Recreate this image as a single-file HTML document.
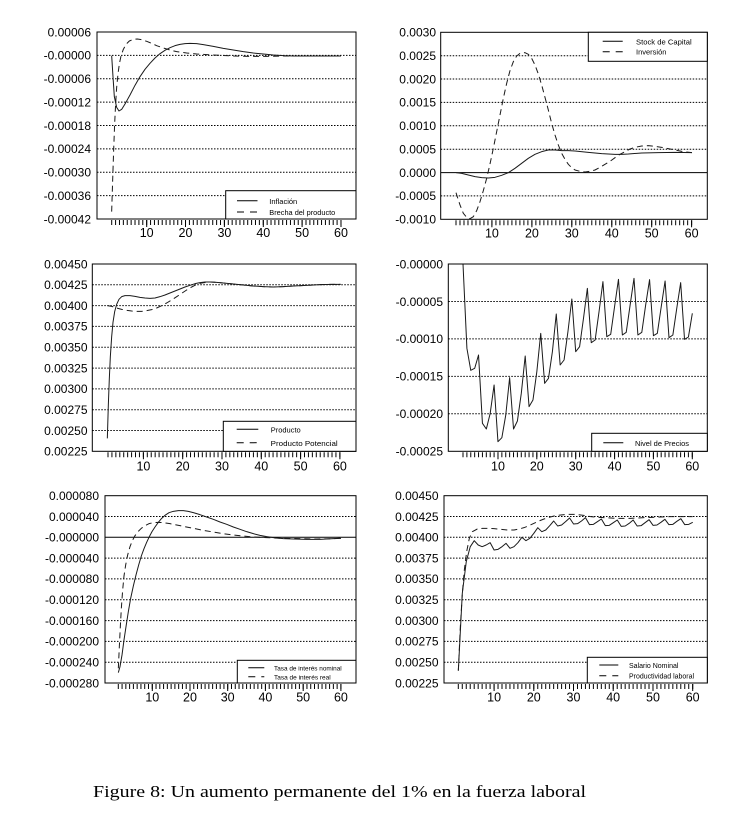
<!DOCTYPE html>
<html><head><meta charset="utf-8"><style>
html,body{margin:0;padding:0;background:#fff;}
svg{display:block;}
.yl{font-family:"Liberation Sans",sans-serif;font-size:12px;fill:#000;text-anchor:end;}
.xl{font-family:"Liberation Sans",sans-serif;font-size:12.5px;fill:#000;text-anchor:middle;}
.lg{font-family:"Liberation Sans",sans-serif;font-size:7.5px;fill:#000;}
.grid{stroke:#000;stroke-width:1;stroke-dasharray:1.5 1.5;}
.box{fill:none;stroke:#000;stroke-width:1;}
.leg{fill:#fff;stroke:#000;stroke-width:1;}
.s{fill:none;stroke:#1a1a1a;stroke-width:3;stroke-linejoin:round;}
.d{fill:none;stroke:#1a1a1a;stroke-width:3;stroke-dasharray:18 12;stroke-linejoin:round;}
.ls{stroke:#000;stroke-width:1;}
.ld{stroke:#000;stroke-width:1;stroke-dasharray:7 6;}
</style></head><body>
<svg width="755" height="826" viewBox="0 0 755 826" xmlns="http://www.w3.org/2000/svg">
<rect width="755" height="826" fill="#fff"/>

<!-- ============ PANEL 1 ============ -->
<g>
<line class="grid" x1="97" x2="356" y1="55.4" y2="55.4"/>
<line class="grid" x1="97" x2="356" y1="78.75" y2="78.75"/>
<line class="grid" x1="97" x2="356" y1="102.1" y2="102.1"/>
<line class="grid" x1="97" x2="356" y1="125.5" y2="125.5"/>
<line class="grid" x1="97" x2="356" y1="148.9" y2="148.9"/>
<line class="grid" x1="97" x2="356" y1="172.25" y2="172.25"/>
<line class="grid" x1="97" x2="356" y1="195.6" y2="195.6"/>
<g transform="translate(0,0) scale(0.33333)">
<polyline class="s" points="335,167 339,230 343,290 350,322 357,333 365,328 375,312 390,285 405,256 420,230 435,208 450,190 465,174 480,161 495,151 510,143 525,137 540,133 555,131 570,130 590,131 610,134 640,139 670,145 700,150 730,155 760,159 790,162 820,165 850,167 880,168 920,168 970,168 1023,168"/>
<polyline class="d" points="335,635 338,540 341,450 344,370 347,310 350,262 354,222 358,192 363,168 370,148 378,133 388,123 400,118 412,117 425,119 440,124 455,130 470,137 490,144 510,150 530,155 560,159 590,162 620,164 660,166 700,168 750,169 800,169 860,168 940,168 1023,168"/>
</g>
<rect class="box" x="97" y="32" width="259" height="187"/>
<rect class="leg" x="225.7" y="190.7" width="130.3" height="28.3"/>
<line class="ls" x1="237" x2="257.5" y1="200.7" y2="200.7"/>
<line class="ld" x1="237" x2="257.5" y1="212" y2="212"/>
<text class="lg" x="269.3" y="204">Inflación</text>
<text class="lg" x="269.3" y="215" textLength="66" lengthAdjust="spacingAndGlyphs">Brecha del producto</text>
<text class="yl" x="91" y="36.3">0.00006</text>
<text class="yl" x="91" y="59.7">-0.00000</text>
<text class="yl" x="91" y="83.1">-0.00006</text>
<text class="yl" x="91" y="106.4">-0.00012</text>
<text class="yl" x="91" y="129.8">-0.00018</text>
<text class="yl" x="91" y="153.2">-0.00024</text>
<text class="yl" x="91" y="176.6">-0.00030</text>
<text class="yl" x="91" y="199.9">-0.00036</text>
<text class="yl" x="91" y="223.3">-0.00042</text>
<line x1="111.2" x2="341.6" y1="222.5" y2="222.5" stroke="#000" stroke-width="5" stroke-dasharray="1 2.886"/>
<path d="M146.7 220v7M185.5 220v7M224.4 220v7M263.3 220v7M302.1 220v7M341 220v7" stroke="#000" stroke-width="1"/>
<text class="xl" x="146.7" y="237">10</text>
<text class="xl" x="185.5" y="237">20</text>
<text class="xl" x="224.4" y="237">30</text>
<text class="xl" x="263.3" y="237">40</text>
<text class="xl" x="302.1" y="237">50</text>
<text class="xl" x="341" y="237">60</text>
</g>

<!-- ============ PANEL 2 ============ -->
<g>
<line class="grid" x1="440.7" x2="707.3" y1="55.7" y2="55.7"/>
<line class="grid" x1="440.7" x2="707.3" y1="79" y2="79"/>
<line class="grid" x1="440.7" x2="707.3" y1="102.4" y2="102.4"/>
<line class="grid" x1="440.7" x2="707.3" y1="125.8" y2="125.8"/>
<line class="grid" x1="440.7" x2="707.3" y1="149.2" y2="149.2"/>
<line x1="440.7" x2="707.3" y1="172.6" y2="172.6" stroke="#000" stroke-width="1"/>
<line class="grid" x1="440.7" x2="707.3" y1="195.9" y2="195.9"/>
<g transform="translate(375,0) scale(0.33333)">
<polyline class="s" points="243,518 260,520 280,525 300,530 320,533 340,534 360,532 380,526 400,518 420,505 440,490 460,475 480,463 500,455 520,450 540,450 560,452 580,452 600,453 640,457 680,461 720,463 740,463 760,462 800,459 850,458 900,457 951,458"/>
<polyline class="d" points="243,578 255,615 265,640 275,652 285,656 295,650 305,632 315,605 325,572 335,535 345,492 355,445 365,395 375,345 385,295 395,250 405,212 415,185 425,168 435,160 450,158 460,163 470,175 480,195 490,222 500,255 510,292 520,330 530,370 540,405 550,435 560,460 570,478 580,493 590,503 600,510 615,514 630,516 645,514 660,510 675,502 690,493 705,484 720,473 735,463 750,455 765,447 780,442 800,438 820,437 840,439 860,442 880,446 900,450 925,455 951,458"/>
</g>
<rect class="box" x="440.7" y="32.3" width="266.6" height="187"/>
<rect class="leg" x="588.3" y="32.3" width="119" height="29"/>
<line class="ls" x1="602.7" x2="622.7" y1="41.3" y2="41.3"/>
<line class="ld" x1="602.7" x2="622.7" y1="51.7" y2="51.7"/>
<text class="lg" x="636" y="44.3" textLength="55.7" lengthAdjust="spacingAndGlyphs">Stock de Capital</text>
<text class="lg" x="636" y="54.7">Inversión</text>
<text class="yl" x="436" y="36.6">0.0030</text>
<text class="yl" x="436" y="60">0.0025</text>
<text class="yl" x="436" y="83.4">0.0020</text>
<text class="yl" x="436" y="106.7">0.0015</text>
<text class="yl" x="436" y="130.1">0.0010</text>
<text class="yl" x="436" y="153.5">0.0005</text>
<text class="yl" x="436" y="176.9">0.0000</text>
<text class="yl" x="436" y="200.2">-0.0005</text>
<text class="yl" x="436" y="223.6">-0.0010</text>
<line x1="455.5" x2="692.2" y1="222.8" y2="222.8" stroke="#000" stroke-width="5" stroke-dasharray="1 2.994"/>
<path d="M491.9 220.3v7M531.9 220.3v7M571.8 220.3v7M611.8 220.3v7M651.7 220.3v7M691.6 220.3v7" stroke="#000" stroke-width="1"/>
<text class="xl" x="491.9" y="237.5">10</text>
<text class="xl" x="531.9" y="237.5">20</text>
<text class="xl" x="571.8" y="237.5">30</text>
<text class="xl" x="611.8" y="237.5">40</text>
<text class="xl" x="651.7" y="237.5">50</text>
<text class="xl" x="691.6" y="237.5">60</text>
</g>

<!-- ============ PANEL 3 ============ -->
<g>
<line class="grid" x1="92.3" x2="356" y1="284.8" y2="284.8"/>
<line class="grid" x1="92.3" x2="356" y1="305.6" y2="305.6"/>
<line class="grid" x1="92.3" x2="356" y1="326.4" y2="326.4"/>
<line class="grid" x1="92.3" x2="356" y1="347.2" y2="347.2"/>
<line class="grid" x1="92.3" x2="356" y1="368.1" y2="368.1"/>
<line class="grid" x1="92.3" x2="356" y1="388.9" y2="388.9"/>
<line class="grid" x1="92.3" x2="356" y1="409.7" y2="409.7"/>
<line class="grid" x1="92.3" x2="356" y1="430.5" y2="430.5"/>
<g transform="translate(0,245) scale(0.33333)">
<polyline class="d" points="322,182 335,184 350,189 365,193 380,196 395,198 410,199 425,199 440,197 455,194 470,189 485,182 500,174 515,165 530,155 545,145 560,135 575,126 590,118 605,114 620,112 630,111 650,112 670,114 700,117 730,120 760,123 790,125 820,126 850,125 880,123 920,121 960,119 1000,118 1022,118"/>
<polyline class="s" points="322,580 325,480 328,400 331,335 335,275 339,232 344,200 350,178 357,163 365,155 375,152 390,152 405,154 420,157 435,159 450,160 465,159 480,155 495,150 510,144 525,138 540,132 555,126 570,121 585,116 600,113 615,111 630,111 650,112 670,114 700,117 730,120 760,123 790,125 820,126 850,125 880,123 920,121 960,119 1000,118 1022,118"/>
</g>
<rect class="box" x="92.3" y="264" width="263.7" height="187.3"/>
<rect class="leg" x="223.3" y="421.3" width="132.7" height="30"/>
<line class="ls" x1="236.7" x2="258.3" y1="429.3" y2="429.3"/>
<line class="ld" x1="236.7" x2="258.3" y1="442.7" y2="442.7"/>
<text class="lg" x="270.7" y="432.5">Producto</text>
<text class="lg" x="270.7" y="446" textLength="67" lengthAdjust="spacingAndGlyphs">Producto Potencial</text>
<text class="yl" x="87.5" y="268.3">0.00450</text>
<text class="yl" x="87.5" y="289.1">0.00425</text>
<text class="yl" x="87.5" y="309.9">0.00400</text>
<text class="yl" x="87.5" y="330.7">0.00375</text>
<text class="yl" x="87.5" y="351.5">0.00350</text>
<text class="yl" x="87.5" y="372.4">0.00325</text>
<text class="yl" x="87.5" y="393.2">0.00300</text>
<text class="yl" x="87.5" y="414">0.00275</text>
<text class="yl" x="87.5" y="434.8">0.00250</text>
<text class="yl" x="87.5" y="455.6">0.00225</text>
<line x1="107.5" x2="340.5" y1="454.8" y2="454.8" stroke="#000" stroke-width="5" stroke-dasharray="1 2.93"/>
<path d="M143.4 452.3v7M182.7 452.3v7M222 452.3v7M261.3 452.3v7M300.6 452.3v7M339.9 452.3v7" stroke="#000" stroke-width="1"/>
<text class="xl" x="143.4" y="470.5">10</text>
<text class="xl" x="182.7" y="470.5">20</text>
<text class="xl" x="222" y="470.5">30</text>
<text class="xl" x="261.3" y="470.5">40</text>
<text class="xl" x="300.6" y="470.5">50</text>
<text class="xl" x="339.9" y="470.5">60</text>
</g>

<!-- ============ PANEL 4 ============ -->
<g>
<line class="grid" x1="448.3" x2="707.3" y1="301.5" y2="301.5"/>
<line class="grid" x1="448.3" x2="707.3" y1="338.9" y2="338.9"/>
<line class="grid" x1="448.3" x2="707.3" y1="376.4" y2="376.4"/>
<line class="grid" x1="448.3" x2="707.3" y1="413.8" y2="413.8"/>
<g transform="translate(375,245) scale(0.33333)">
<polyline class="s" points="264,57 275.7,310 287.3,376 299,370 310.6,330 322.3,535 334,552 345.6,505 357.3,420 368.9,590 380.6,578 392.3,510 403.9,398 415.6,552 427.2,528 438.9,445 450.6,333 462.2,485 473.9,465 485.5,380 497.2,265 508.9,415 520.5,400 532.2,320 543.8,207 555.5,360 567.2,345 578.8,260 590.5,162 602.1,320 613.8,305 625.5,220 637.1,130 648.8,293 660.4,285 672.1,200 683.8,110 695.4,275 707.1,268 718.7,185 730.4,103 742.1,270 753.7,262 765.4,180 777,100 788.7,270 800.4,262 812,180 823.7,104 835.3,272 847,265 858.7,185 870.3,108 882,278 893.6,270 905.3,190 917,113 928.6,283 940.3,276 952,205"/>
</g>
<rect class="box" x="448.3" y="264" width="259" height="187.3"/>
<rect class="leg" x="591.7" y="433.3" width="115.6" height="18"/>
<line class="ls" x1="603.3" x2="623.3" y1="442.7" y2="442.7"/>
<text class="lg" x="635" y="446" textLength="54" lengthAdjust="spacingAndGlyphs">Nivel de Precios</text>
<text class="yl" x="443" y="268.3">-0.00000</text>
<text class="yl" x="443" y="305.8">-0.00005</text>
<text class="yl" x="443" y="343.2">-0.00010</text>
<text class="yl" x="443" y="380.7">-0.00015</text>
<text class="yl" x="443" y="418.1">-0.00020</text>
<text class="yl" x="443" y="455.6">-0.00025</text>
<line x1="462.5" x2="692.9" y1="454.8" y2="454.8" stroke="#000" stroke-width="5" stroke-dasharray="1 2.886"/>
<path d="M498 452.3v7M536.8 452.3v7M575.7 452.3v7M614.6 452.3v7M653.4 452.3v7M692.3 452.3v7" stroke="#000" stroke-width="1"/>
<text class="xl" x="498" y="470.5">10</text>
<text class="xl" x="536.8" y="470.5">20</text>
<text class="xl" x="575.7" y="470.5">30</text>
<text class="xl" x="614.6" y="470.5">40</text>
<text class="xl" x="653.4" y="470.5">50</text>
<text class="xl" x="692.3" y="470.5">60</text>
</g>

<!-- ============ PANEL 5 ============ -->
<g>
<line class="grid" x1="105" x2="356" y1="516.5" y2="516.5"/>
<line x1="105" x2="356" y1="537.3" y2="537.3" stroke="#000" stroke-width="1"/>
<line class="grid" x1="105" x2="356" y1="558.1" y2="558.1"/>
<line class="grid" x1="105" x2="356" y1="578.9" y2="578.9"/>
<line class="grid" x1="105" x2="356" y1="599.8" y2="599.8"/>
<line class="grid" x1="105" x2="356" y1="620.6" y2="620.6"/>
<line class="grid" x1="105" x2="356" y1="641.4" y2="641.4"/>
<line class="grid" x1="105" x2="356" y1="662.2" y2="662.2"/>
<g transform="translate(0,480) scale(0.33333)">
<polyline class="s" points="355,578 360,560 366,525 372,480 378,440 385,395 392,355 400,318 408,285 416,255 424,228 432,206 440,187 448,170 456,155 465,141 475,127 485,115 495,106 507,98 520,94 535,92 550,92 565,94 580,98 600,104 620,111 640,118 660,126 680,133 700,141 720,148 740,155 760,161 780,166 800,170 820,173 850,176 880,177 920,178 960,178 1000,176 1023,175"/>
<polyline class="d" points="355,565 358,500 361,440 364,385 368,330 372,288 377,255 383,225 390,200 397,182 405,167 414,155 424,145 435,137 447,131 460,128 475,127 490,128 510,131 530,135 555,140 580,145 610,151 640,156 670,161 700,165 730,168 760,171 800,173 850,175 900,176 950,177 1000,176 1023,174"/>
</g>
<rect class="box" x="105" y="495.7" width="251" height="187.3"/>
<rect class="leg" x="237.3" y="660.3" width="118.7" height="22.7"/>
<line class="ls" x1="248.3" x2="264.3" y1="667.7" y2="667.7"/>
<line class="ld" x1="248.3" x2="264.3" y1="676.7" y2="676.7"/>
<text class="lg" x="274" y="670.5" style="font-size:6.5px" textLength="67.7" lengthAdjust="spacingAndGlyphs">Tasa de interés nominal</text>
<text class="lg" x="274" y="679.5" style="font-size:6.5px">Tasa de interés real</text>
<text class="yl" x="99" y="500">0.000080</text>
<text class="yl" x="99" y="520.8">0.000040</text>
<text class="yl" x="99" y="541.6">-0.000000</text>
<text class="yl" x="99" y="562.4">-0.000040</text>
<text class="yl" x="99" y="583.2">-0.000080</text>
<text class="yl" x="99" y="604.1">-0.000120</text>
<text class="yl" x="99" y="624.9">-0.000160</text>
<text class="yl" x="99" y="645.7">-0.000200</text>
<text class="yl" x="99" y="666.5">-0.000240</text>
<text class="yl" x="99" y="687.3">-0.000280</text>
<line x1="117.8" x2="341.5" y1="686.5" y2="686.5" stroke="#000" stroke-width="5" stroke-dasharray="1 2.773"/>
<path d="M152.3 684v7M190 684v7M227.7 684v7M265.4 684v7M303.2 684v7M340.9 684v7" stroke="#000" stroke-width="1"/>
<text class="xl" x="152.3" y="701.5">10</text>
<text class="xl" x="190" y="701.5">20</text>
<text class="xl" x="227.7" y="701.5">30</text>
<text class="xl" x="265.4" y="701.5">40</text>
<text class="xl" x="303.2" y="701.5">50</text>
<text class="xl" x="340.9" y="701.5">60</text>
</g>

<!-- ============ PANEL 6 ============ -->
<g>
<line class="grid" x1="444" x2="707.3" y1="516.5" y2="516.5"/>
<line class="grid" x1="444" x2="707.3" y1="537.3" y2="537.3"/>
<line class="grid" x1="444" x2="707.3" y1="558.1" y2="558.1"/>
<line class="grid" x1="444" x2="707.3" y1="578.9" y2="578.9"/>
<line class="grid" x1="444" x2="707.3" y1="599.8" y2="599.8"/>
<line class="grid" x1="444" x2="707.3" y1="620.6" y2="620.6"/>
<line class="grid" x1="444" x2="707.3" y1="641.4" y2="641.4"/>
<line class="grid" x1="444" x2="707.3" y1="662.2" y2="662.2"/>
<g transform="translate(375,480) scale(0.33333)">
<polyline class="d" points="250,572 256,440 262,340 268,270 275,215 283,175 292,155 307,147 322,145 337,145 357,146 377,148 397,150 417,150 432,147 447,143 462,137 477,130 492,123 507,117 522,112 537,108 557,105 577,103 597,103 617,105 632,107 647,110 667,112 687,113 707,114 727,115 747,115 767,115 787,114 807,113 832,112 857,111 882,110 907,110 930,110 953,110"/>
<polyline class="s" points="250,572 261.9,340 273.8,245 285.8,200 297.7,182 309.6,195 321.5,200 333.4,195 345.4,188 357.3,210 369.2,208 381.1,200 393,190 405,205 416.9,200 428.8,188 440.7,172 452.6,182 464.6,175 476.5,160 488.4,143 500.3,155 512.2,150 524.2,137 536.1,123 548,138 559.9,135 571.8,125 583.8,114 595.7,132 607.6,131 619.5,123 631.4,113 643.4,134 655.3,133 667.2,125 679.1,117 691,137 703,136 714.9,128 726.8,120 738.7,139 750.6,138 762.6,130 774.5,120 786.4,138 798.3,137 810.2,128 822.2,119 834.1,136 846,135 857.9,127 869.8,118 881.8,134 893.7,133 905.6,124 917.5,116 929.4,134 941.4,133 953.3,127"/>
</g>
<rect class="box" x="444" y="495.7" width="263.3" height="187.3"/>
<rect class="leg" x="587.3" y="657.3" width="120" height="25.7"/>
<line class="ls" x1="599.3" x2="618.3" y1="665" y2="665"/>
<line class="ld" x1="599.3" x2="618.3" y1="675.7" y2="675.7"/>
<text class="lg" x="629" y="668" style="font-size:7px">Salario Nominal</text>
<text class="lg" x="629" y="678.7" style="font-size:7px" textLength="65" lengthAdjust="spacingAndGlyphs">Productividad laboral</text>
<text class="yl" x="438.5" y="500">0.00450</text>
<text class="yl" x="438.5" y="520.8">0.00425</text>
<text class="yl" x="438.5" y="541.6">0.00400</text>
<text class="yl" x="438.5" y="562.4">0.00375</text>
<text class="yl" x="438.5" y="583.2">0.00350</text>
<text class="yl" x="438.5" y="604.1">0.00325</text>
<text class="yl" x="438.5" y="624.9">0.00300</text>
<text class="yl" x="438.5" y="645.7">0.00275</text>
<text class="yl" x="438.5" y="666.5">0.00250</text>
<text class="yl" x="438.5" y="687.3">0.00225</text>
<line x1="457.8" x2="693.3" y1="686.5" y2="686.5" stroke="#000" stroke-width="5" stroke-dasharray="1 2.973"/>
<path d="M494.1 684v7M533.8 684v7M573.5 684v7M613.2 684v7M653 684v7M692.7 684v7" stroke="#000" stroke-width="1"/>
<text class="xl" x="494.1" y="701.5">10</text>
<text class="xl" x="533.8" y="701.5">20</text>
<text class="xl" x="573.5" y="701.5">30</text>
<text class="xl" x="613.2" y="701.5">40</text>
<text class="xl" x="653" y="701.5">50</text>
<text class="xl" x="692.7" y="701.5">60</text>
</g>

<!-- caption -->
<text x="93" y="797" style="font-family:'Liberation Serif',serif;font-size:16.5px;fill:#000" textLength="493" lengthAdjust="spacingAndGlyphs">Figure 8: Un aumento permanente del 1% en la fuerza laboral</text>
</svg>
</body></html>
